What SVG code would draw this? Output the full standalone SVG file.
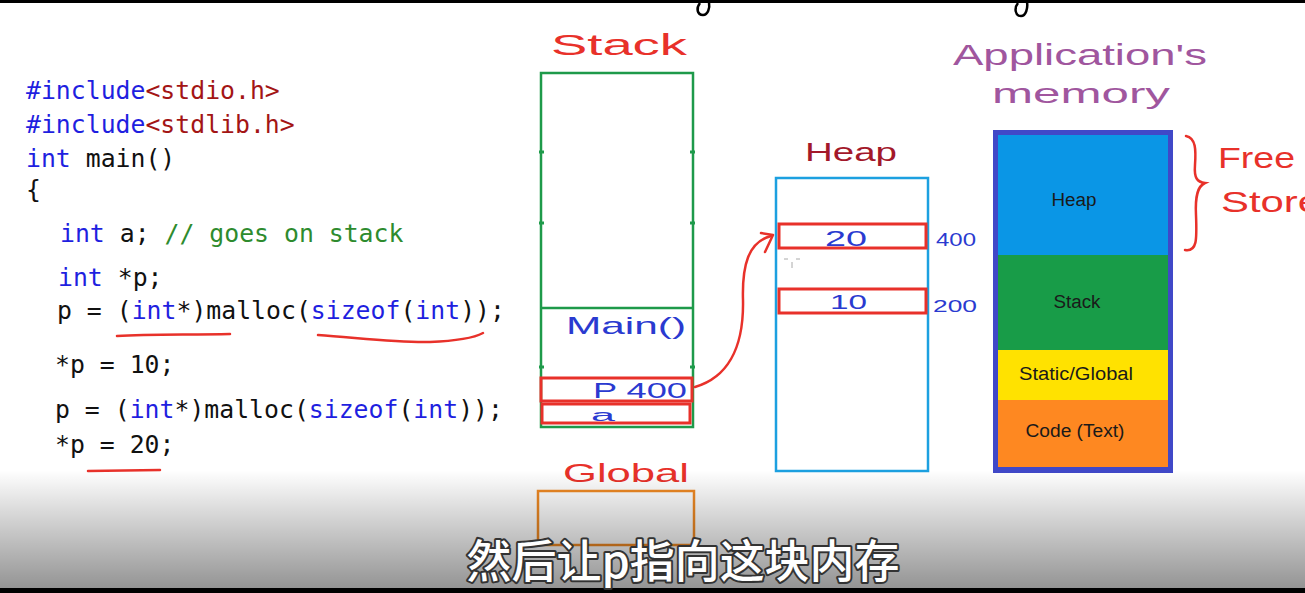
<svg xmlns="http://www.w3.org/2000/svg" width="1305" height="593" viewBox="0 0 1305 593">
<defs>
<style>
.code{font-family:"DejaVu Sans Mono","Liberation Mono",monospace;font-size:24.8px;fill:#111}
.kw{fill:#1f1fe0}
.str{fill:#a31515}
.cm{fill:#2e8b2e}
.hand{font-family:"Liberation Sans","DejaVu Sans",sans-serif}
.red{fill:#e8312a}
.blue{fill:#2a3ad0}
.ul{fill:none;stroke:#e8312a;stroke-width:2.5;stroke-linecap:round}
.box{fill:none;stroke:#e8312a;stroke-width:3}
.seg{font-family:"Liberation Sans","Open Sans",sans-serif;font-size:18px;fill:#1a1a1a;text-anchor:middle}
</style>
<linearGradient id="shade" x1="0" y1="0" x2="0" y2="1">
<stop offset="0" stop-color="#000" stop-opacity="0"/>
<stop offset="1" stop-color="#000" stop-opacity="0.42"/>
</linearGradient>
</defs>
<rect width="1305" height="593" fill="#fff"/>
<rect width="1305" height="3" fill="#000"/>
<path d="M700,3 C696,8 697,15 703,15 C708,15 710,8 709,2" fill="none" stroke="#000" stroke-width="2.5"/>
<path d="M1018,3 C1014,8 1015,16 1021,16 C1026,16 1028,8 1027,2" fill="none" stroke="#000" stroke-width="2.5"/>

<g id="code">
<text class="code" x="26" y="99"><tspan class="kw">#include</tspan><tspan class="str">&lt;stdio.h&gt;</tspan></text>
<text class="code" x="26" y="133"><tspan class="kw">#include</tspan><tspan class="str">&lt;stdlib.h&gt;</tspan></text>
<text class="code" x="26" y="167"><tspan class="kw">int</tspan> main()</text>
<text class="code" x="26" y="198">{</text>
<text class="code" x="60" y="242"><tspan class="kw">int</tspan> a; <tspan class="cm">// goes on stack</tspan></text>
<text class="code" x="58" y="286"><tspan class="kw">int</tspan> *p;</text>
<text class="code" x="57" y="319">p = (<tspan class="kw">int</tspan>*)malloc(<tspan class="kw">sizeof</tspan>(<tspan class="kw">int</tspan>));</text>
<text class="code" x="55" y="373">*p = 10;</text>
<text class="code" x="55" y="418">p = (<tspan class="kw">int</tspan>*)malloc(<tspan class="kw">sizeof</tspan>(<tspan class="kw">int</tspan>));</text>
<text class="code" x="55" y="453">*p = 20;</text>
<path class="ul" d="M117,336 C150,334 190,335 230,334"/>
<path class="ul" d="M318,335 C360,338 400,343 430,342 C455,341 472,339 483,333"/>
<path class="ul" d="M88,471 L160,470"/>
</g>

<g id="stack">
<text class="hand red" x="551" y="55" font-size="30" textLength="136" lengthAdjust="spacingAndGlyphs">Stack</text>
<rect x="541" y="73" width="152" height="354" fill="none" stroke="#1e9a4a" stroke-width="2.5"/>
<line x1="541" y1="308" x2="693" y2="308" stroke="#1e9a4a" stroke-width="2.5"/>
<g stroke="#1e9a4a" stroke-width="3">
<line x1="539" y1="152" x2="544" y2="152"/><line x1="690" y1="152" x2="695" y2="152"/>
<line x1="539" y1="223" x2="544" y2="223"/><line x1="690" y1="223" x2="695" y2="223"/>
<line x1="539" y1="367" x2="544" y2="367"/><line x1="690" y1="367" x2="695" y2="367"/>
</g>
<text class="hand blue" x="566" y="334" font-size="24" textLength="120" lengthAdjust="spacingAndGlyphs">Main()</text>
<rect class="box" x="541" y="378" width="151" height="23"/>
<text class="hand blue" x="593" y="398" font-size="22" textLength="94" lengthAdjust="spacingAndGlyphs">P 400</text>
<rect class="box" x="542" y="404" width="148" height="19"/>
<text class="hand blue" x="591" y="421" font-size="16" textLength="24" lengthAdjust="spacingAndGlyphs">a</text>
</g>

<g id="global">
<text class="hand red" x="563" y="482" font-size="25" textLength="126" lengthAdjust="spacingAndGlyphs">Global</text>
<rect x="538" y="491" width="156" height="54" fill="none" stroke="#f08a24" stroke-width="2.5"/>
</g>

<g id="heap">
<text class="hand" x="805" y="161" font-size="26" fill="#a3182a" textLength="92" lengthAdjust="spacingAndGlyphs">Heap</text>
<rect x="776" y="178" width="152" height="293" fill="none" stroke="#1ca0e0" stroke-width="2.5"/>
<rect class="box" x="779" y="224" width="147" height="24"/>
<text class="hand blue" x="825" y="246" font-size="22" textLength="42" lengthAdjust="spacingAndGlyphs">20</text>
<rect class="box" x="779" y="289" width="147" height="24"/>
<text class="hand blue" x="830" y="309" font-size="20" textLength="37" lengthAdjust="spacingAndGlyphs">10</text>
<text class="hand blue" x="936" y="246" font-size="18" textLength="40" lengthAdjust="spacingAndGlyphs">400</text>
<text class="hand blue" x="933" y="312" font-size="17" textLength="44" lengthAdjust="spacingAndGlyphs">200</text>
<g stroke="#aaa" stroke-width="1"><line x1="784" y1="259" x2="788" y2="259"/><line x1="796" y1="259" x2="800" y2="259"/><line x1="792" y1="262" x2="792" y2="268"/></g>
</g>

<g id="connectors">
<path d="M695,387 C726,378 744,350 743,300 C742,266 748,242 771,236" fill="none" stroke="#e8312a" stroke-width="2.5" stroke-linecap="round"/>
<path d="M761,233 L773,235 L765,252" fill="none" stroke="#e8312a" stroke-width="2.5" stroke-linecap="round" stroke-linejoin="round"/>
</g>

<g id="app-memory">
<text class="hand" x="953" y="65" font-size="30" fill="#a0569e" textLength="254" lengthAdjust="spacingAndGlyphs">Application's</text>
<text class="hand" x="992" y="103" font-size="28" fill="#a0569e" textLength="178" lengthAdjust="spacingAndGlyphs">memory</text>
<rect x="996" y="133" width="174" height="337" fill="#4048c8"/>
<rect x="998" y="135" width="171" height="120" fill="#0a96e6"/>
<rect x="998" y="255" width="171" height="95" fill="#189c48"/>
<rect x="998" y="350" width="171" height="50" fill="#ffe200"/>
<rect x="998" y="400" width="171" height="67" fill="#fe8821"/>
<rect x="995.5" y="132.5" width="175" height="338" fill="none" stroke="#4048c8" stroke-width="5"/>
<text class="seg" x="1074" y="206" textLength="45" lengthAdjust="spacingAndGlyphs">Heap</text>
<text class="seg" x="1077" y="308" textLength="47" lengthAdjust="spacingAndGlyphs">Stack</text>
<text class="seg" x="1076" y="380" textLength="114" lengthAdjust="spacingAndGlyphs">Static/Global</text>
<text class="seg" x="1075" y="437" textLength="99" lengthAdjust="spacingAndGlyphs">Code (Text)</text>
</g>

<g id="free-store">
<path d="M1186,136 C1196,138 1196,150 1195,165 C1194,178 1197,182 1205,183 C1198,186 1195,195 1196,215 C1197,240 1197,252 1185,250" fill="none" stroke="#e8312a" stroke-width="2.5" stroke-linecap="round"/>
<text class="hand red" x="1218" y="168" font-size="30" textLength="77" lengthAdjust="spacingAndGlyphs">Free</text>
<text class="hand red" x="1221" y="212" font-size="30" textLength="100" lengthAdjust="spacingAndGlyphs">Store</text>
</g>

<rect x="0" y="470" width="1305" height="118" fill="url(#shade)"/>
<rect x="0" y="588" width="1305" height="5" fill="#000"/>
<text x="683" y="578" text-anchor="middle" font-family="Noto Sans CJK SC, sans-serif" font-size="45" font-weight="500" fill="#fff" stroke="#333" stroke-width="4" stroke-linejoin="round" paint-order="stroke" textLength="433" lengthAdjust="spacingAndGlyphs">然后让p指向这块内存</text>
</svg>
